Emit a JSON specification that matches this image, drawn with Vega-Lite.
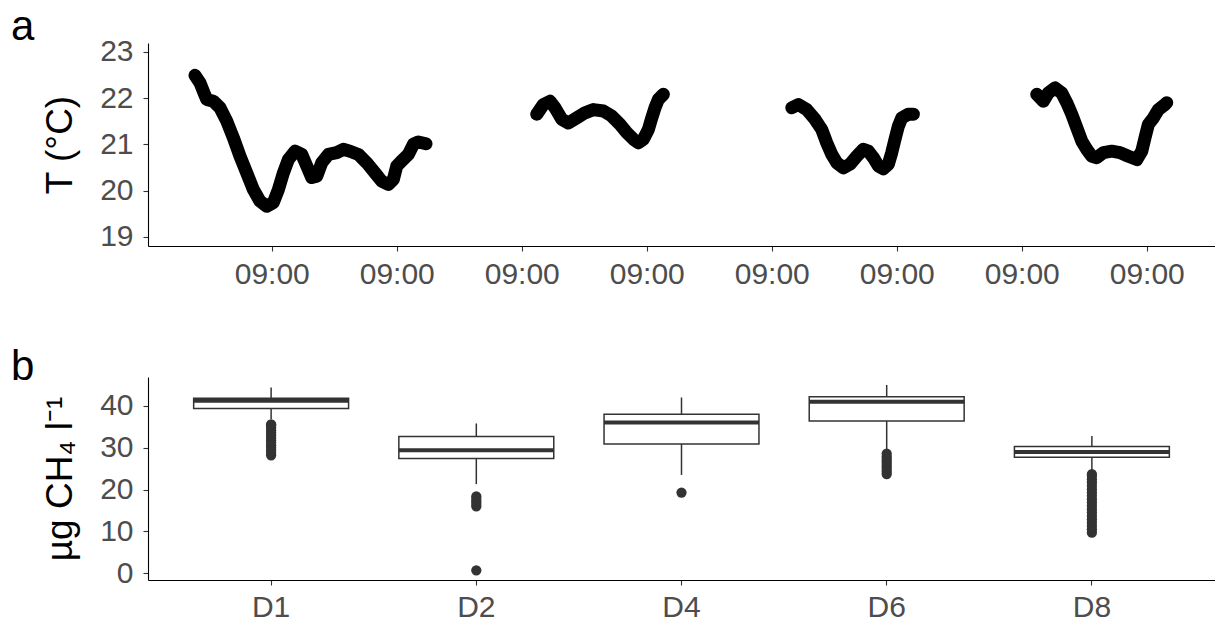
{
  "$schema": "https://vega.github.io/schema/vega-lite/v6.json",
  "padding": {"left": 11, "top": 5, "right": 0, "bottom": 0},
  "background": "white",
  "bounds": "flush",
  "spacing": 131,
  "config": {
    "view": {"stroke": null},
    "font": "Liberation Sans",
    "axis": {
      "grid": false,
      "domainColor": "#000000",
      "domainWidth": 1.1,
      "tickColor": "#333333",
      "tickWidth": 1.1,
      "tickSize": 5,
      "labelColor": "#4D4D4D",
      "labelFont": "Liberation Sans",
      "labelFontSize": 30,
      "titleFont": "Liberation Sans",
      "titleFontSize": 37,
      "titleFontWeight": "normal",
      "titleColor": "#000000"
    }
  },
  "vconcat": [
    {
      "width": 1067,
      "height": 203,
      "title": {"text": "a", "anchor": "start", "frame": "group", "dx": -137, "offset": -45, "baseline": "alphabetic", "fontSize": 42, "fontWeight": "normal", "font": "Liberation Sans", "color": "#000000"},
      "data": {"values": [
        {"seg": 1, "t": 0.386, "temp": 22.49}, {"seg": 1, "t": 0.426, "temp": 22.33}, {"seg": 1, "t": 0.458, "temp": 22.11}, {"seg": 1, "t": 0.48, "temp": 21.97},
        {"seg": 1, "t": 0.533, "temp": 21.93}, {"seg": 1, "t": 0.586, "temp": 21.79}, {"seg": 1, "t": 0.64, "temp": 21.5}, {"seg": 1, "t": 0.693, "temp": 21.14},
        {"seg": 1, "t": 0.746, "temp": 20.74}, {"seg": 1, "t": 0.8, "temp": 20.38}, {"seg": 1, "t": 0.853, "temp": 20.02}, {"seg": 1, "t": 0.906, "temp": 19.77},
        {"seg": 1, "t": 0.96, "temp": 19.66}, {"seg": 1, "t": 1.013, "temp": 19.74}, {"seg": 1, "t": 1.053, "temp": 20.02}, {"seg": 1, "t": 1.093, "temp": 20.38},
        {"seg": 1, "t": 1.133, "temp": 20.67}, {"seg": 1, "t": 1.186, "temp": 20.85}, {"seg": 1, "t": 1.24, "temp": 20.78}, {"seg": 1, "t": 1.28, "temp": 20.53},
        {"seg": 1, "t": 1.32, "temp": 20.28}, {"seg": 1, "t": 1.36, "temp": 20.31}, {"seg": 1, "t": 1.4, "temp": 20.6}, {"seg": 1, "t": 1.453, "temp": 20.78},
        {"seg": 1, "t": 1.52, "temp": 20.82}, {"seg": 1, "t": 1.573, "temp": 20.89}, {"seg": 1, "t": 1.626, "temp": 20.85}, {"seg": 1, "t": 1.693, "temp": 20.78},
        {"seg": 1, "t": 1.76, "temp": 20.6}, {"seg": 1, "t": 1.826, "temp": 20.38}, {"seg": 1, "t": 1.88, "temp": 20.2}, {"seg": 1, "t": 1.933, "temp": 20.13},
        {"seg": 1, "t": 1.973, "temp": 20.24}, {"seg": 1, "t": 2.0, "temp": 20.53}, {"seg": 1, "t": 2.04, "temp": 20.64}, {"seg": 1, "t": 2.093, "temp": 20.78},
        {"seg": 1, "t": 2.133, "temp": 21.0}, {"seg": 1, "t": 2.173, "temp": 21.05}, {"seg": 1, "t": 2.234, "temp": 21.01},
        {"seg": 2, "t": 3.12, "temp": 21.65}, {"seg": 2, "t": 3.173, "temp": 21.86}, {"seg": 2, "t": 3.226, "temp": 21.93}, {"seg": 2, "t": 3.266, "temp": 21.79},
        {"seg": 2, "t": 3.32, "temp": 21.54}, {"seg": 2, "t": 3.373, "temp": 21.46}, {"seg": 2, "t": 3.44, "temp": 21.57}, {"seg": 2, "t": 3.506, "temp": 21.68},
        {"seg": 2, "t": 3.573, "temp": 21.75}, {"seg": 2, "t": 3.653, "temp": 21.72}, {"seg": 2, "t": 3.72, "temp": 21.61}, {"seg": 2, "t": 3.786, "temp": 21.43},
        {"seg": 2, "t": 3.84, "temp": 21.25}, {"seg": 2, "t": 3.893, "temp": 21.11}, {"seg": 2, "t": 3.933, "temp": 21.03}, {"seg": 2, "t": 3.973, "temp": 21.11},
        {"seg": 2, "t": 4.013, "temp": 21.32}, {"seg": 2, "t": 4.04, "temp": 21.57}, {"seg": 2, "t": 4.066, "temp": 21.79}, {"seg": 2, "t": 4.093, "temp": 21.97},
        {"seg": 2, "t": 4.133, "temp": 22.08},
        {"seg": 3, "t": 5.16, "temp": 21.79}, {"seg": 3, "t": 5.213, "temp": 21.86}, {"seg": 3, "t": 5.28, "temp": 21.75}, {"seg": 3, "t": 5.346, "temp": 21.54},
        {"seg": 3, "t": 5.4, "temp": 21.32}, {"seg": 3, "t": 5.44, "temp": 21.03}, {"seg": 3, "t": 5.48, "temp": 20.78}, {"seg": 3, "t": 5.52, "temp": 20.6},
        {"seg": 3, "t": 5.573, "temp": 20.49}, {"seg": 3, "t": 5.626, "temp": 20.57}, {"seg": 3, "t": 5.68, "temp": 20.74}, {"seg": 3, "t": 5.733, "temp": 20.89},
        {"seg": 3, "t": 5.773, "temp": 20.85}, {"seg": 3, "t": 5.813, "temp": 20.71}, {"seg": 3, "t": 5.853, "temp": 20.53}, {"seg": 3, "t": 5.893, "temp": 20.47},
        {"seg": 3, "t": 5.933, "temp": 20.57}, {"seg": 3, "t": 5.96, "temp": 20.82}, {"seg": 3, "t": 5.986, "temp": 21.11}, {"seg": 3, "t": 6.013, "temp": 21.39},
        {"seg": 3, "t": 6.04, "temp": 21.57}, {"seg": 3, "t": 6.093, "temp": 21.65}, {"seg": 3, "t": 6.133, "temp": 21.65},
        {"seg": 4, "t": 7.12, "temp": 22.08}, {"seg": 4, "t": 7.173, "temp": 21.93}, {"seg": 4, "t": 7.213, "temp": 22.11}, {"seg": 4, "t": 7.266, "temp": 22.22},
        {"seg": 4, "t": 7.32, "temp": 22.11}, {"seg": 4, "t": 7.36, "temp": 21.9}, {"seg": 4, "t": 7.4, "temp": 21.65}, {"seg": 4, "t": 7.44, "temp": 21.36},
        {"seg": 4, "t": 7.48, "temp": 21.07}, {"seg": 4, "t": 7.52, "temp": 20.89}, {"seg": 4, "t": 7.56, "temp": 20.74}, {"seg": 4, "t": 7.6, "temp": 20.71},
        {"seg": 4, "t": 7.653, "temp": 20.82}, {"seg": 4, "t": 7.72, "temp": 20.85}, {"seg": 4, "t": 7.786, "temp": 20.82}, {"seg": 4, "t": 7.853, "temp": 20.74},
        {"seg": 4, "t": 7.92, "temp": 20.67}, {"seg": 4, "t": 7.96, "temp": 20.85}, {"seg": 4, "t": 7.986, "temp": 21.14}, {"seg": 4, "t": 8.013, "temp": 21.43},
        {"seg": 4, "t": 8.053, "temp": 21.57}, {"seg": 4, "t": 8.093, "temp": 21.75}, {"seg": 4, "t": 8.146, "temp": 21.86}, {"seg": 4, "t": 8.16, "temp": 21.9}
      ]},
      "encoding": {
        "x": {"field": "t", "type": "quantitative", "scale": {"domain": [0.01, 8.546], "nice": false, "zero": false}, "axis": {"values": [1, 2, 3, 4, 5, 6, 7, 8], "labelExpr": "'09:00'", "title": null, "labelPadding": 8}},
        "y": {"field": "temp", "type": "quantitative", "scale": {"domain": [18.8, 23.19], "nice": false, "zero": false}, "axis": {"values": [19, 20, 21, 22, 23], "title": "T (°C)", "labelPadding": 10, "titlePadding": 20}}
      },
      "layer": [
        {"mark": {"type": "line", "color": "#000000", "strokeWidth": 13, "strokeCap": "round", "strokeJoin": "round"}, "encoding": {"detail": {"field": "seg", "type": "nominal"}}},
        {"mark": {"type": "circle", "color": "#000000", "size": 133, "opacity": 1}}
      ]
    },
    {
      "width": 1067,
      "height": 203,
      "title": {"text": "b", "anchor": "start", "frame": "group", "dx": -137, "offset": -45, "baseline": "alphabetic", "fontSize": 42, "fontWeight": "normal", "font": "Liberation Sans", "color": "#000000"},
      "layer": [
        {
          "data": {"name": "boxes"},
          "mark": {"type": "rule", "color": "#333333", "strokeWidth": 1.5},
          "encoding": {
            "x": {"field": "day", "type": "nominal", "scale": {"type": "band", "paddingInner": 0, "paddingOuter": 0.1}, "axis": {"title": null, "labelAngle": 0, "labelPadding": 7}},
            "y": {"field": "lower", "type": "quantitative", "scale": {"domain": [-1.6, 46.9], "nice": false, "zero": false}, "axis": {"values": [0, 10, 20, 30, 40], "title": "µg CH₄ l⁻¹", "labelPadding": 10, "titlePadding": 20}},
            "y2": {"field": "upper"}
          }
        },
        {
          "data": {"name": "boxes"},
          "mark": {"type": "bar", "width": {"band": 0.755}, "fill": "#ffffff", "stroke": "#333333", "strokeWidth": 1.5},
          "encoding": {
            "x": {"field": "day", "type": "nominal"},
            "y": {"field": "q1", "type": "quantitative"},
            "y2": {"field": "q3"}
          }
        },
        {
          "data": {"name": "boxes"},
          "mark": {"type": "tick", "color": "#333333", "size": 155, "thickness": 4, "opacity": 1},
          "encoding": {
            "x": {"field": "day", "type": "nominal"},
            "y": {"field": "median", "type": "quantitative"}
          }
        },
        {
          "data": {"name": "outliers"},
          "mark": {"type": "circle", "color": "#333333", "size": 105, "opacity": 1},
          "encoding": {
            "x": {"field": "day", "type": "nominal"},
            "y": {"field": "value", "type": "quantitative"}
          }
        }
      ]
    }
  ],
  "datasets": {
    "boxes": [
      {"day": "D1", "lower": 36.8, "q1": 39.4, "median": 41.2, "q3": 41.8, "upper": 44.4},
      {"day": "D2", "lower": 21.3, "q1": 27.4, "median": 29.4, "q3": 32.7, "upper": 35.8},
      {"day": "D4", "lower": 23.5, "q1": 30.9, "median": 36.0, "q3": 38.0, "upper": 42.0},
      {"day": "D6", "lower": 29.3, "q1": 36.4, "median": 41.0, "q3": 42.2, "upper": 45.0},
      {"day": "D8", "lower": 24.5, "q1": 27.7, "median": 29.0, "q3": 30.3, "upper": 32.8}
    ],
    "outliers": [
      {"day": "D1", "value": 28.2}, {"day": "D1", "value": 28.8}, {"day": "D1", "value": 29.4}, {"day": "D1", "value": 30.0},
      {"day": "D1", "value": 30.6}, {"day": "D1", "value": 31.2}, {"day": "D1", "value": 31.8}, {"day": "D1", "value": 32.4},
      {"day": "D1", "value": 33.0}, {"day": "D1", "value": 33.6}, {"day": "D1", "value": 34.2}, {"day": "D1", "value": 34.8},
      {"day": "D1", "value": 35.4}, {"day": "D1", "value": 35.6},
      {"day": "D2", "value": 16.0}, {"day": "D2", "value": 16.6}, {"day": "D2", "value": 17.2}, {"day": "D2", "value": 17.8},
      {"day": "D2", "value": 18.4}, {"day": "D2", "value": 0.7},
      {"day": "D4", "value": 19.3},
      {"day": "D6", "value": 23.7}, {"day": "D6", "value": 24.3}, {"day": "D6", "value": 24.9}, {"day": "D6", "value": 25.5},
      {"day": "D6", "value": 26.1}, {"day": "D6", "value": 26.7}, {"day": "D6", "value": 27.3}, {"day": "D6", "value": 27.9},
      {"day": "D6", "value": 28.6},
      {"day": "D8", "value": 9.7}, {"day": "D8", "value": 10.5}, {"day": "D8", "value": 11.3}, {"day": "D8", "value": 12.1},
      {"day": "D8", "value": 12.9}, {"day": "D8", "value": 13.7}, {"day": "D8", "value": 14.5}, {"day": "D8", "value": 15.3},
      {"day": "D8", "value": 16.1}, {"day": "D8", "value": 16.9}, {"day": "D8", "value": 17.7}, {"day": "D8", "value": 18.5},
      {"day": "D8", "value": 19.3}, {"day": "D8", "value": 20.1}, {"day": "D8", "value": 20.9}, {"day": "D8", "value": 21.7},
      {"day": "D8", "value": 22.5}, {"day": "D8", "value": 23.3}, {"day": "D8", "value": 23.7}
    ]
  }
}
